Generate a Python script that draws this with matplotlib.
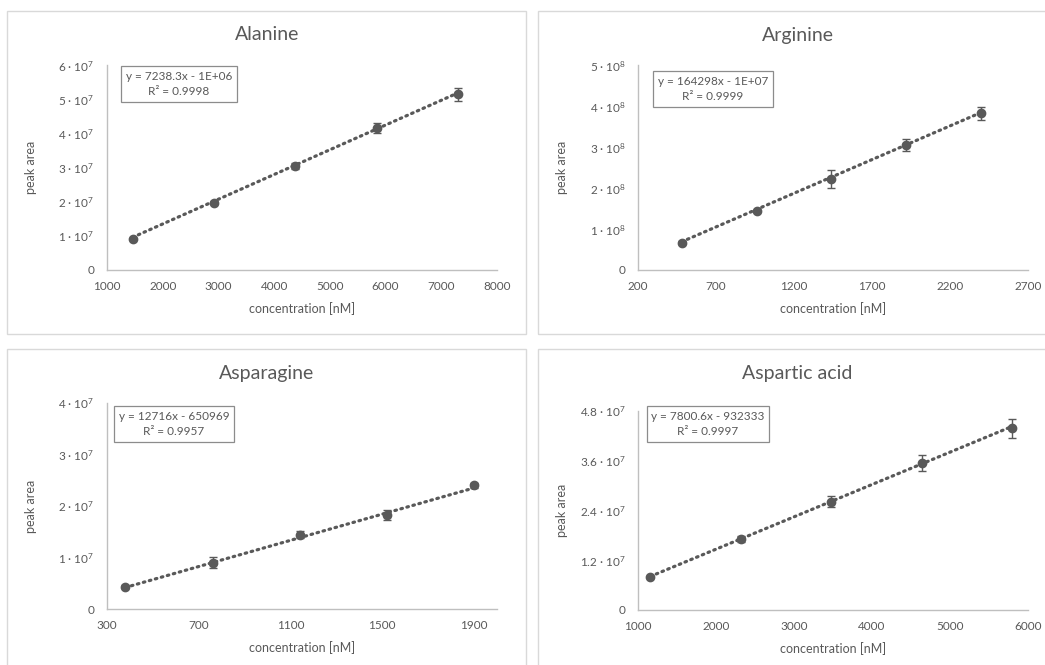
import matplotlib
matplotlib.use("Agg")
import matplotlib.pyplot as plt
from matplotlib.patches import Rectangle
import numpy as np

plt.rcParams["font.family"] = ["Lato", "DejaVu Sans"]
plt.rcParams["mathtext.fontset"] = "custom"
plt.rcParams["mathtext.rm"] = "Lato"
plt.rcParams["mathtext.default"] = "regular"

# ---- calibration data ----
titles = ["Alanine", "Arginine", "Asparagine", "Aspartic acid"]

ala_conc = [1460, 2920, 4380, 5840, 7300]
ala_area = [0.916e7, 1.97e7, 3.05e7, 4.16e7, 5.14e7]
ala_err = [0.02e7, 0.05e7, 0.08e7, 0.14e7, 0.19e7]

arg_conc = [480, 960, 1440, 1920, 2400]
arg_area = [0.666e8, 1.44e8, 2.22e8, 3.05e8, 3.82e8]
arg_err = [0.03e8, 0.03e8, 0.22e8, 0.14e8, 0.15e8]

asn_conc = [380, 760, 1140, 1520, 1900]
asn_area = [0.43e7, 0.90e7, 1.44e7, 1.82e7, 2.40e7]
asn_err = [0.03e7, 0.107e7, 0.07e7, 0.10e7, 0.05e7]

asp_conc = [1160, 2320, 3480, 4640, 5800]
asp_area = [0.796e7, 1.71e7, 2.61e7, 3.55e7, 4.38e7]
asp_err = [0.03e7, 0.07e7, 0.13e7, 0.20e7, 0.225e7]

slopes = [7238.3, 164298, 12716, 7800.6]
intercepts = [-1e6, -1e7, -650969, -932333]
eq_texts = ["y = 7238.3x - 1E+06", "y = 164298x - 1E+07",
            "y = 12716x - 650969", "y = 7800.6x - 932333"]
r2_texts = ["R² = 0.9998", "R² = 0.9999", "R² = 0.9957", "R² = 0.9997"]

x_ticks = [[1000, 2000, 3000, 4000, 5000, 6000, 7000, 8000],
           [200, 700, 1200, 1700, 2200, 2700],
           [300, 700, 1100, 1500, 1900],
           [1000, 2000, 3000, 4000, 5000, 6000]]
x_limits = [(1000, 8000), (200, 2700), (300, 2000), (1000, 6000)]
y_ticks = [[0, 1e7, 2e7, 3e7, 4e7, 5e7, 6e7],
           [0, 1e8, 2e8, 3e8, 4e8, 5e8],
           [0, 1e7, 2e7, 3e7, 4e7],
           [0, 1.2e7, 2.4e7, 3.6e7, 4.8e7]]
y_tick_labels = [["0"] + [f"{m} · 10$^{{7}}$" for m in [1, 2, 3, 4, 5, 6]],
                 ["0"] + [f"{m} · 10$^{{8}}$" for m in [1, 2, 3, 4, 5]],
                 ["0"] + [f"{m} · 10$^{{7}}$" for m in [1, 2, 3, 4]],
                 ["0"] + [f"{m} · 10$^{{7}}$" for m in ["1.2", "2.4", "3.6", "4.8"]]]

series = [(ala_conc, ala_area, ala_err), (arg_conc, arg_area, arg_err),
          (asn_conc, asn_area, asn_err), (asp_conc, asp_area, asp_err)]

W, H = 1045, 665
fig = plt.figure(figsize=(W / 100, H / 100), dpi=100)
fig.patch.set_facecolor("white")

TEXT = "#595959"
MARK = "#595959"
SPINE = "#bfbfbf"
FRAME = "#d9d9d9"


def px_rect(x0, y0, x1, y1):
    return [x0 / W, 1 - y1 / H, (x1 - x0) / W, (y1 - y0) / H]


# chart frames
frames = [(7, 11, 526, 334), (538, 11, 1052, 334), (7, 349, 526, 672), (538, 349, 1052, 672)]
for x0, y0, x1, y1 in frames:
    fig.patches.append(Rectangle((x0 / W, 1 - y1 / H), (x1 - x0) / W, (y1 - y0) / H,
                                 transform=fig.transFigure, fill=False,
                                 edgecolor=FRAME, linewidth=1.0))

axes_px = [(107, 65, 497, 270), (638, 65, 1028, 270), (107, 403, 497, 609), (638, 411, 1028, 610)]
title_px = [(267, 35), (798, 35), (267, 374), (797, 374)]
box_px = [(179, 84), (713, 89), (174, 424), (708, 424)]
ylabel_x = [37, 568, 37, 568]

for i in range(4):
    ax = fig.add_axes(px_rect(*axes_px[i]))
    conc, area, err = series[i]
    conc = np.array(conc, dtype=float)

    # linear trendline across the calibration range
    xx = np.linspace(conc.min(), conc.max(), 50)
    ax.plot(xx, slopes[i] * xx + intercepts[i], linestyle=(0, (0.5, 1.45)),
            color=MARK, linewidth=2.3, dash_capstyle="round", zorder=2)
    ax.errorbar(conc, area, yerr=err, fmt="o", color=MARK, markersize=6,
                ecolor=MARK, elinewidth=1.0, capsize=3, capthick=1.0, zorder=3)

    ax.set_xlim(*x_limits[i])
    ax.set_xticks(x_ticks[i])
    ax.set_xticklabels([str(t) for t in x_ticks[i]])
    ax.set_ylim(y_ticks[i][0], y_ticks[i][-1])
    ax.set_yticks(y_ticks[i])
    ax.set_yticklabels(y_tick_labels[i])
    ax.tick_params(length=0, labelsize=8.5, labelcolor=TEXT, pad=9)
    ax.tick_params(axis="x", pad=8)
    for s in ["top", "right"]:
        ax.spines[s].set_visible(False)
    for s in ["left", "bottom"]:
        ax.spines[s].set_color(SPINE)
        ax.spines[s].set_linewidth(1.0)
    ax.set_xlabel("concentration [nM]", fontsize=9, color=TEXT, labelpad=7)
    ax.set_ylabel("peak area", fontsize=9, color=TEXT)
    ax.yaxis.set_label_coords(-(axes_px[i][0] - ylabel_x[i]) /
                              (axes_px[i][2] - axes_px[i][0]), 0.5)

    fig.text(title_px[i][0] / W, 1 - title_px[i][1] / H, titles[i],
             fontsize=14, color=TEXT, ha="center", va="center")
    fig.text(box_px[i][0] / W, 1 - box_px[i][1] / H, eq_texts[i] + "\n" + r2_texts[i],
             fontsize=8.5, color=TEXT, ha="center", va="center", linespacing=1.45,
             bbox=dict(boxstyle="square,pad=0.4", facecolor="white",
                       edgecolor="#8c8c8c", linewidth=0.9))

fig.savefig("out.png", dpi=100, facecolor="white")
